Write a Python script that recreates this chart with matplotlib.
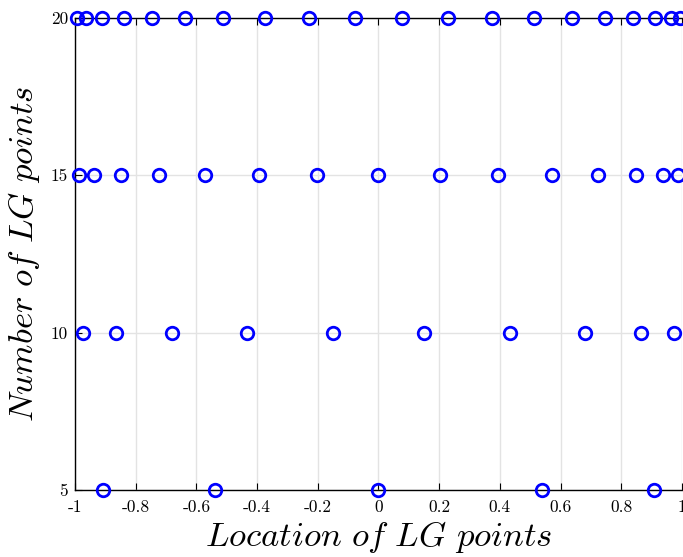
import matplotlib
matplotlib.use("Agg")
import matplotlib.pyplot as plt
import numpy as np

plt.rcParams['mathtext.fontset'] = 'cm'
plt.rcParams['font.family'] = 'serif'
plt.rcParams['font.serif'] = ['cmr10', 'DejaVu Serif']
plt.rcParams['axes.unicode_minus'] = False
plt.rcParams['axes.formatter.use_mathtext'] = True

# LG point locations, one list per number of points
n_points = [5, 10, 15, 20]
pos5 = [0.0, 0.5385, 0.9062]
pos10 = [0.1489, 0.4334, 0.6794, 0.8651, 0.9739]
pos15 = [0.0, 0.2012, 0.3941, 0.5709, 0.7244, 0.8482, 0.9372, 0.9879]
pos20 = [0.0765, 0.2277, 0.3737, 0.5109, 0.6362, 0.7463, 0.8391, 0.9122, 0.9639, 0.9931]
locations = [pos5, pos10, pos15, pos20]

xticks = [-1, -0.8, -0.6, -0.4, -0.2, 0, 0.2, 0.4, 0.6, 0.8, 1]
xticklabels = ['-1', '-0.8', '-0.6', '-0.4', '-0.2', '0', '0.2', '0.4', '0.6', '0.8', '1']
yticks = [5, 10, 15, 20]


def main():
    fig = plt.figure(figsize=(6.83, 5.57), dpi=100)
    ax = fig.add_axes([0.1098, 0.1203, 0.8887, 0.8474])

    for n, pos in zip(n_points, locations):
        half = np.array(pos)
        xs = np.unique(np.concatenate([-half, half]))
        ax.plot(xs, [n] * len(xs), 'o', color='#0000ff', mfc='none',
                ms=9, mew=2, clip_on=False, zorder=5)

    ax.set_xlim(-1, 1)
    ax.set_ylim(5, 20)
    ax.set_xticks(xticks)
    ax.set_xticklabels(xticklabels)
    ax.set_yticks(yticks)
    ax.set_yticklabels([str(v) for v in yticks])
    ax.tick_params(direction='in', top=True, right=False, labelsize=12.5,
                   length=5, width=0.8)
    ax.tick_params(axis='x', pad=7)
    ax.tick_params(axis='y', pad=5)
    ax.grid(True, color='#e3e3e3', linewidth=1)
    ax.set_axisbelow(True)
    for side in ['left', 'bottom', 'top']:
        ax.spines[side].set_linewidth(1)
    ax.spines['right'].set_visible(False)

    ax.set_xlabel(r'$Location\ of\ LG\ points$', fontsize=25, labelpad=3)
    ax.set_ylabel(r'$Number\ of\ LG\ points$', fontsize=25, labelpad=6)

    plt.savefig('out.png', dpi=100)
    plt.close()


if __name__ == "__main__":
    main()
